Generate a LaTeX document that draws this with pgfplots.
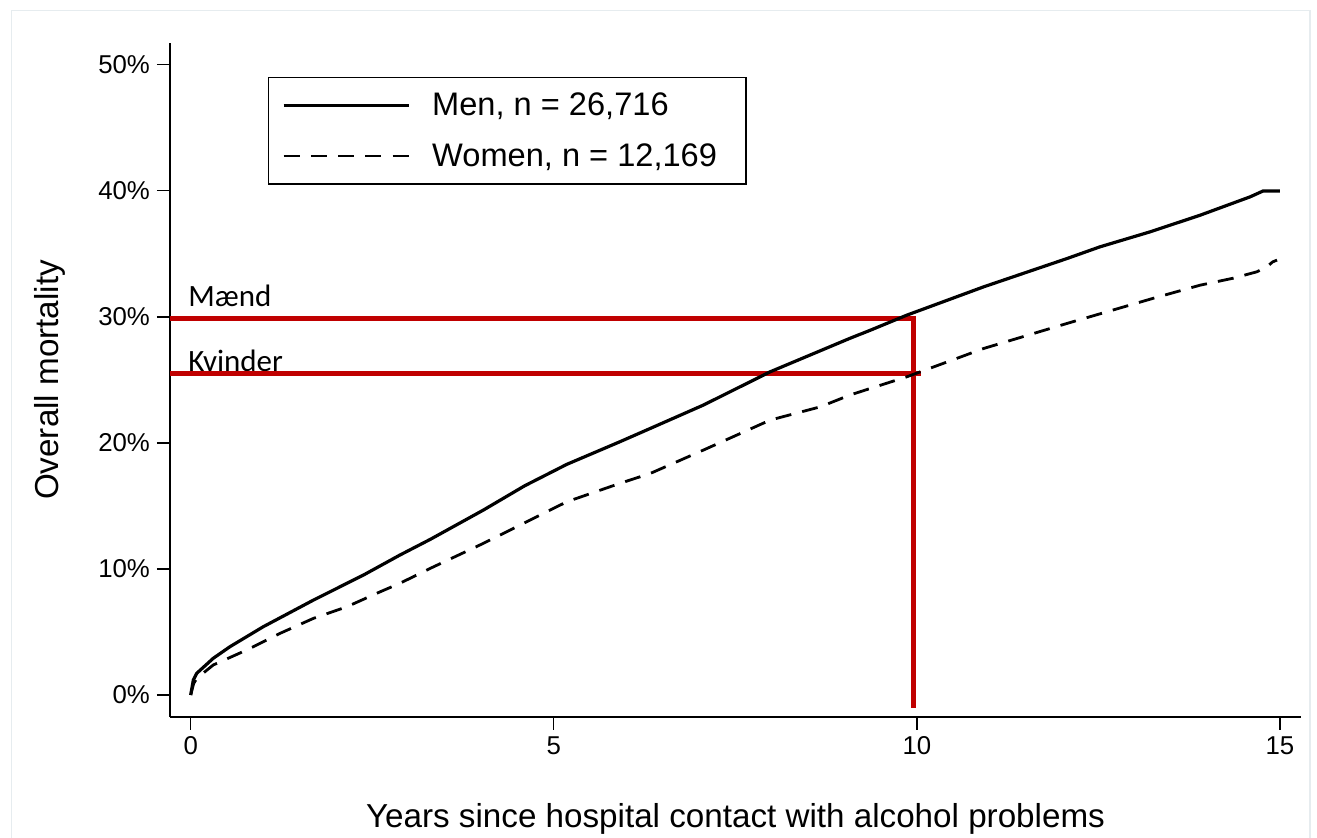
\documentclass[border=0pt]{standalone}
\usepackage{fontspec}
\setmainfont{Liberation Sans}
\newfontfamily\calibri{Carlito}
\usepackage{pgfplots}
\pgfplotsset{compat=1.18}
\definecolor{redline}{HTML}{C00000}
\definecolor{framegray}{HTML}{E6ECEF}

\pgfplotstableread{
x y
0 0
0.036 1.19
0.083 1.72
0.31 2.91
0.54 3.83
1.0 5.42
1.69 7.53
2.38 9.52
2.88 11.1
3.30 12.35
4.03 14.67
4.6 16.6
5.18 18.3
5.91 20.09
6.33 21.15
7.06 23.0
7.98 25.64
9.08 28.3
9.36 28.94
9.86 30.13
10.92 32.38
12.07 34.63
12.52 35.55
13.21 36.74
13.90 38.06
14.59 39.52
14.77 39.99
15.0 39.99
}\men

\pgfplotstableread{
x y
0 0
0.04 0.9
0.083 1.32
0.31 2.38
0.77 3.57
1.23 4.89
1.69 6.08
2.15 7.0
2.61 8.19
2.88 8.86
3.30 10.05
4.03 12.03
5.18 15.33
5.91 16.79
6.33 17.58
7.06 19.43
7.98 21.81
8.67 22.86
9.08 23.8
9.36 24.32
9.86 25.24
10.92 27.49
12.07 29.48
13.26 31.48
13.90 32.51
14.36 33.07
14.68 33.57
14.82 33.97
14.90 34.36
14.96 34.5
}\women

\begin{document}
\begin{tikzpicture}
\useasboundingbox (0,0) rectangle (658.5pt,-419pt);
\draw[framegray, line width=0.7pt] (5.6pt,-430pt) -- (5.6pt,-5.4pt) -- (655pt,-5.4pt) -- (655pt,-430pt);
\begin{axis}[
  at={(85pt,-358.35pt)}, anchor=south west,
  width=565.5pt, height=336.7pt, scale only axis,
  xmin=-0.285, xmax=15.29, ymin=-1.72, ymax=51.7,
  axis x line*=bottom, axis y line*=left,
  axis line style={line width=1pt},
  xtick={0,5,10,15}, xticklabels={0,5,10,15},
  ytick={0,10,20,30,40,50}, yticklabels={0\%,10\%,20\%,30\%,40\%,50\%},
  tick align=outside, major tick length=6.5pt,
  tick style={line width=0.7pt, black},
  ticklabel style={font=\fontsize{12.9}{15}\selectfont},
  xlabel={Years since hospital contact with alcohol problems},
  ylabel={Overall mortality},
  label style={font=\fontsize{16.6}{20}\selectfont},
  xlabel style={at={(axis description cs:0.5,-0.1638)}, anchor=base},
  ylabel style={at={(axis description cs:-0.099,0.5)}, anchor=base},
  legend style={at={(axis description cs:0.0866,0.950)}, anchor=north west,
    draw=black, line width=0.75pt, inner xsep=6.85pt, inner ysep=7.5pt,
    row sep=12.4pt, column sep=11.2pt,
    font=\fontsize{16.3}{19.5}\selectfont, nodes={inner sep=0pt}},
  legend image code/.code={\draw[#1, line width=1.2pt] (0pt,0pt) -- (62.5pt,0pt);},
  legend cell align=left,
]
\node[anchor=base west, inner sep=0pt, font=\calibri\fontsize{15.5}{18}\selectfont] at (axis cs:-0.037,30.85) {Mænd};
\node[anchor=base west, inner sep=0pt, font=\calibri\fontsize{15.5}{18}\selectfont] at (axis cs:-0.037,25.7) {Kvinder};
\addplot[redline, line width=2.5pt, line join=miter, forget plot] coordinates {(-0.285,29.9) (9.96,29.9) (9.96,-1.0)};
\addplot[redline, line width=2.5pt, forget plot] coordinates {(-0.285,25.5) (10.06,25.5)};
\addplot[black, line width=1.6pt, line join=round] table[x=x,y=y] {\men};
\addlegendentry{\makebox[150pt][l]{Men, n = 26,716}}
\addplot[black, line width=1.4pt, dash pattern=on 8pt off 5.625pt] table[x=x,y=y] {\women};
\addlegendentry{\makebox[150pt][l]{Women, n = 12,169}}
\end{axis}
\end{tikzpicture}
\end{document}
